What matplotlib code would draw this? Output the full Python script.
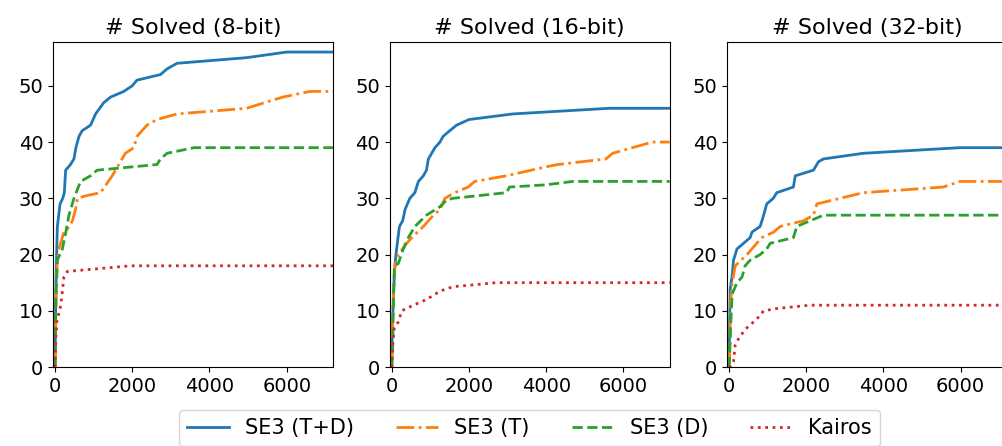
import matplotlib
matplotlib.use('Agg')
import matplotlib.pyplot as plt
import numpy as np

# time (s) vs. cumulative number of solved instances
titles = ['# Solved (8-bit)', '# Solved (16-bit)', '# Solved (32-bit)']
labels = ['SE3 (T+D)', 'SE3 (T)', 'SE3 (D)', 'Kairos']

td8_t = [0, 15, 30, 60, 130, 200, 240, 275, 400, 490, 540, 620, 700, 920, 1050, 1260, 1440, 1780, 2000, 2120, 2730, 2900, 3160, 4960, 6000, 7200]
td8_y = [0, 10, 17, 25, 29, 30, 31, 35, 36, 37, 39, 41, 42, 43, 45, 47, 48, 49, 50, 51, 52, 53, 54, 55, 56, 56]
t8_t = [0, 20, 50, 100, 230, 320, 450, 530, 580, 830, 1180, 1480, 1650, 1820, 2040, 2120, 2380, 2640, 3160, 4960, 5900, 6600, 7200]
t8_y = [0, 10, 18, 21, 24, 24.5, 26, 28, 30, 30.5, 31, 34, 36, 38, 39, 41, 43, 44, 45, 46, 48, 49, 49]
d8_t = [0, 20, 60, 190, 280, 360, 490, 660, 920, 1090, 1560, 2640, 2730, 2900, 3600, 7200]
d8_y = [0, 12, 19, 21, 24, 27, 30, 33, 34, 35, 35.3, 36, 37, 38, 39, 39]
k8_t = [0, 20, 45, 150, 230, 320, 1950, 7200]
k8_y = [0, 5, 8, 11, 16, 17, 18, 18]

td16_t = [0, 20, 45, 70, 110, 145, 200, 285, 345, 470, 600, 690, 820, 900, 950, 1120, 1250, 1330, 1500, 1680, 2000, 3140, 5630, 7200]
td16_y = [0, 8, 12, 17, 20, 22, 25, 26, 28, 30, 31, 33, 34, 35, 37, 39, 40, 41, 42, 43, 44, 45, 46, 46]
t16_t = [0, 20, 45, 85, 170, 390, 520, 820, 1080, 1250, 1380, 1630, 1980, 2150, 2970, 4000, 4300, 5550, 5720, 6750, 7200]
t16_y = [0, 8, 13, 18, 20, 22, 23, 25, 27, 28, 30, 31, 32, 33, 34, 35.6, 36, 37, 38, 40, 40]
d16_t = [0, 25, 45, 70, 170, 300, 430, 600, 900, 1250, 1420, 1590, 2970, 3050, 4000, 4690, 7200]
d16_y = [0, 3, 12, 18, 18.4, 21, 23, 25, 27, 28.5, 29.7, 30, 31, 32, 32.4, 33, 33]
k16_t = [0, 25, 70, 170, 260, 560, 900, 1250, 1590, 2100, 2700, 7200]
k16_y = [0, 4, 7, 8, 10, 11, 12, 13.5, 14.3, 14.6, 15, 15]

td32_t = [0, 15, 35, 80, 120, 210, 380, 550, 600, 810, 900, 980, 1150, 1240, 1670, 1720, 2190, 2320, 2450, 3480, 5980, 7200]
td32_y = [0, 6, 14, 16, 19, 21, 22, 23, 24, 25, 27, 29, 30, 31, 32, 34, 35, 36.5, 37, 38, 39, 39]
t32_t = [0, 15, 50, 85, 165, 470, 720, 850, 1160, 1330, 1930, 2190, 2280, 2880, 3480, 5550, 5980, 7200]
t32_y = [0, 2, 12, 15, 18, 20, 22, 23, 24, 25, 26, 27, 29, 30, 31, 32, 33, 33]
d32_t = [0, 15, 50, 85, 210, 340, 420, 550, 810, 980, 1070, 1670, 1760, 1930, 2450, 7200]
d32_y = [0, 1, 8, 13, 15, 16, 18, 19, 20, 21, 22, 23, 25, 25.5, 27, 27]
k32_t = [0, 35, 120, 165, 290, 470, 720, 900, 1240, 1670, 2100, 7200]
k32_y = [0, 0, 1, 4, 5.5, 7, 8.5, 10, 10.4, 10.7, 11, 11]

panels = [
    [(td8_t, td8_y), (t8_t, t8_y), (d8_t, d8_y), (k8_t, k8_y)],
    [(td16_t, td16_y), (t16_t, t16_y), (d16_t, d16_y), (k16_t, k16_y)],
    [(td32_t, td32_y), (t32_t, t32_y), (d32_t, d32_y), (k32_t, k32_y)],
]

colors = ['#1f77b4', '#ff7f0e', '#2ca02c', '#d62728']
styles = ['-', '-.', '--', ':']

fig = plt.figure(figsize=(10.02, 4.46), dpi=100)
lefts = [0.053, 0.389, 0.7255]
handles = []
for i, (left, series) in enumerate(zip(lefts, panels)):
    ax = fig.add_axes([left, 0.177, 0.2794, 0.729])
    for (t, y), c, ls, lab in zip(series, colors, styles, labels):
        ln, = ax.plot(t, y, color=c, ls=ls, lw=2, label=lab)
        if i == 0:
            handles.append(ln)
    ax.set_xlim(-50, 7200)
    ax.set_ylim(0, 57.8)
    ax.set_xticks([0, 2000, 4000, 6000])
    ax.set_yticks([0, 10, 20, 30, 40, 50])
    ax.tick_params(axis='both', labelsize=14)
    ax.set_title(titles[i], fontsize=16)

fig.legend(handles=handles, loc='lower center', bbox_to_anchor=(0.5285, -0.024),
           ncol=4, fontsize=15, frameon=True)

fig.savefig('out.png', dpi=100)
